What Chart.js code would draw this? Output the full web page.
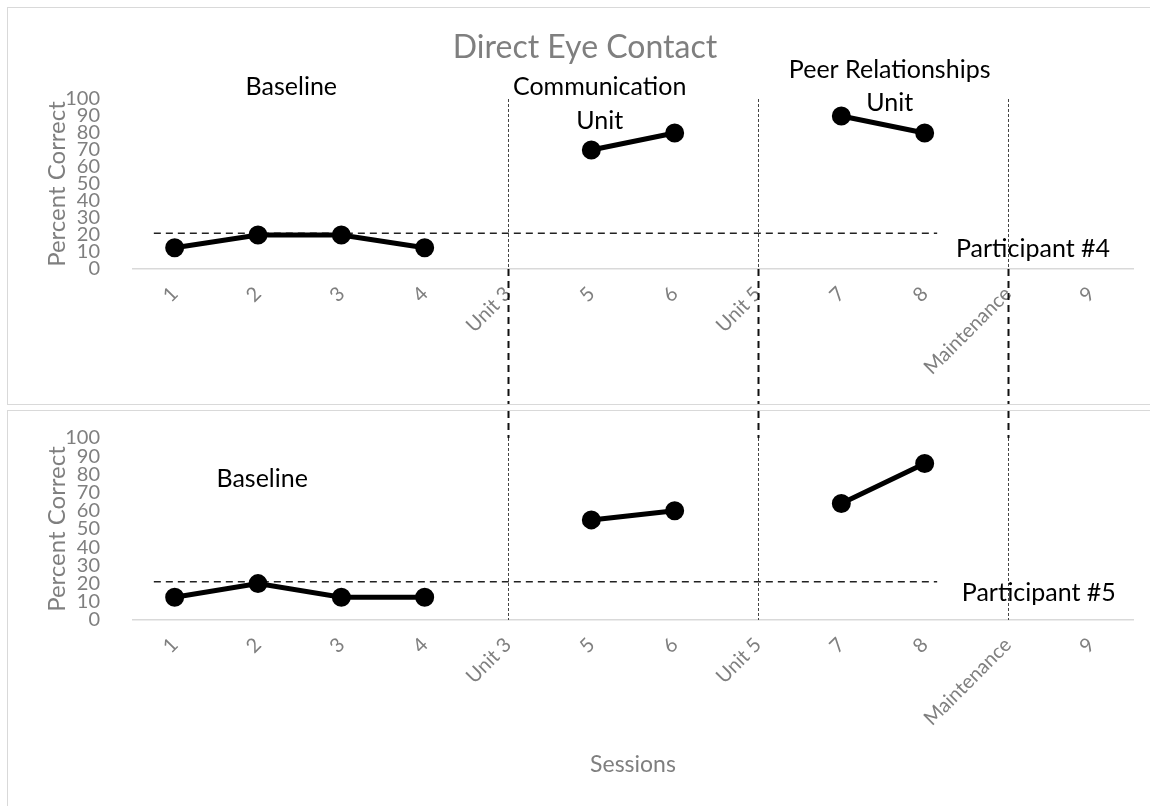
<!DOCTYPE html>
<html>
<head>
<meta charset="utf-8">
<script src="https://cdn.jsdelivr.net/npm/chart.js@4.4.1/dist/chart.umd.min.js"></script>
<style>
  body { margin: 0; background: #fff; width: 1150px; height: 806px; overflow: hidden; position: relative; }
  .panel { position: absolute; left: 7px; border: 1px solid #d9d9d9; border-right: none; background: #fff; }
  #p4 { top: 7px; }
  #p5 { top: 410px; border-bottom: none; }
  canvas { display: block; }
</style>
</head>
<body>
<div class="panel" id="p4"><canvas id="chart4" width="1142" height="396"></canvas></div>
<div class="panel" id="p5"><canvas id="chart5" width="1142" height="395"></canvas></div>
<script>
// ---- data ----
const sessions = ["1", "2", "3", "4", "Unit 3", "5", "6", "Unit 5", "7", "8", "Maintenance", "9"];
const participant4 = [12.5, 20, 20, 12.5, null, 70, 80, null, 90, 80, null, null];
const participant5 = [12.5, 20, 12.5, 12.5, null, 55, 60, null, 64, 86, null, null];
const criterionLevel = 21;
const criterionFrom = -0.25;   // in session-index units
const criterionTo = 9.15;
const phaseChanges = ["Unit 3", "Unit 5", "Maintenance"];
const yMin = 0, yMax = 100, yStep = 10;

const FONT = "Lato, 'Open Sans', sans-serif";
const GRAY = "#7f7f7f";

// phase change lines + text labels
const phasePlugin = {
  id: "phases",
  afterDatasetsDraw(chart, args, opts) {
    const ctx = chart.ctx;
    const x = chart.scales.x, y = chart.scales.y, x2 = chart.scales.x2;
    const yTop = y.getPixelForValue(yMax), yBot = y.getPixelForValue(yMin);
    ctx.save();
    phaseChanges.forEach(p => {
      const px = Math.round(x.getPixelForValue(sessions.indexOf(p))) + 0.5;
      // thin dotted part inside the plot
      ctx.strokeStyle = "#444";
      ctx.lineWidth = 1;
      ctx.setLineDash([3, 2]);
      ctx.beginPath();
      ctx.moveTo(px, yTop);
      ctx.lineTo(px, yBot);
      ctx.stroke();
      // heavier dashed connector between panels
      ctx.strokeStyle = "#111";
      ctx.lineWidth = 2;
      ctx.setLineDash([7, 5]);
      ctx.beginPath();
      if (opts.part === "top") {
        ctx.moveTo(px, yBot);
        ctx.lineTo(px, chart.height);
      } else {
        ctx.moveTo(px, 0);
        ctx.lineTo(px, yTop);
      }
      ctx.stroke();
    });
    ctx.setLineDash([]);
    if (opts.title) {
      ctx.fillStyle = GRAY;
      ctx.font = "32px " + FONT;
      ctx.textAlign = "center";
      ctx.textBaseline = "middle";
      ctx.fillText(opts.title, chart.width / 2 + 6, 40);
    }
    ctx.fillStyle = "#000";
    ctx.font = "25px " + FONT;
    ctx.textAlign = "center";
    ctx.textBaseline = "middle";
    (opts.notes || []).forEach(n => {
      ctx.fillText(n.text, x2.getPixelForValue(n.x), y.getPixelForValue(n.y));
    });
    ctx.restore();
  }
};

function makeChart(id, values, part, padding, xHeight, notes, title, showXTitle) {
  return new Chart(document.getElementById(id), {
    type: "line",
    data: {
      labels: sessions,
      datasets: [
        {
          data: values,
          borderColor: "#000",
          backgroundColor: "#000",
          borderWidth: 5,
          pointRadius: 7,
          pointHoverRadius: 7,
          spanGaps: false
        },
        {
          xAxisID: "x2",
          data: [{ x: criterionFrom, y: criterionLevel }, { x: criterionTo, y: criterionLevel }],
          borderColor: "#222",
          borderWidth: 1.5,
          borderDash: [7, 5],
          pointRadius: 0
        }
      ]
    },
    options: {
      responsive: false,
      animation: false,
      layout: { padding: padding },
      plugins: {
        legend: { display: false },
        tooltip: { enabled: false },
        phases: { part: part, notes: notes, title: title }
      },
      scales: {
        x: {
          type: "category",
          offset: true,
          grid: { display: false, drawTicks: false },
          border: { display: true, color: "#d9d9d9", width: 1.5 },
          ticks: {
            color: GRAY,
            font: { family: FONT, size: 20 },
            minRotation: 45,
            maxRotation: 45,
            autoSkip: false,
            padding: 13
          },
          title: {
            display: showXTitle,
            text: "Sessions",
            color: GRAY,
            font: { family: FONT, size: 23 }
          },
          afterFit: s => { s.height = xHeight; }
        },
        x2: { type: "linear", display: false, min: -0.5, max: sessions.length - 0.5 },
        y: {
          min: yMin,
          max: yMax,
          grid: { display: false, drawTicks: true, tickLength: 30 },
          border: { display: false },
          ticks: {
            stepSize: yStep,
            autoSkip: false,
            color: GRAY,
            padding: 3,
            font: { family: FONT, size: 20, lineHeight: 1 }
          },
          title: {
            display: true,
            text: "Percent Correct",
            color: GRAY,
            font: { family: FONT, size: 24 }
          },
          afterFit: s => { s.width = 94; }
        }
      }
    },
    plugins: [phasePlugin]
  });
}

makeChart("chart4", participant4, "top",
  { left: 31, right: 17, top: 91, bottom: 0 }, 135,
  [
    { text: "Baseline", x: 1.40, y: 107 },
    { text: "Communication", x: 5.10, y: 107 },
    { text: "Unit", x: 5.10, y: 87 },
    { text: "Peer Relationships", x: 8.58, y: 117 },
    { text: "Unit", x: 8.58, y: 97.5 },
    { text: "Participant #4", x: 10.30, y: 11.8 }
  ],
  "Direct Eye Contact", false);

makeChart("chart5", participant5, "bottom",
  { left: 31, right: 17, top: 27, bottom: 24 }, 162,
  [
    { text: "Baseline", x: 1.05, y: 77.5 },
    { text: "Participant #5", x: 10.37, y: 14.8 }
  ],
  null, true);
</script>
</body>
</html>
